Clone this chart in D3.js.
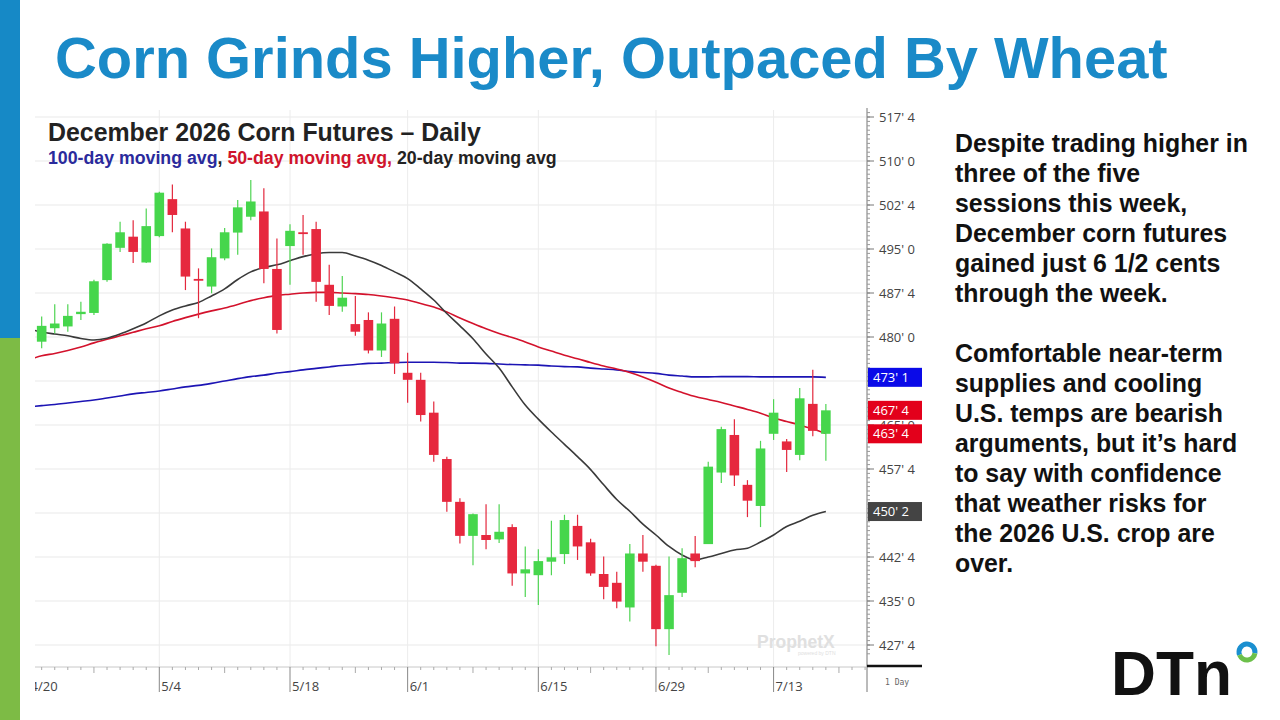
<!DOCTYPE html>
<html><head><meta charset="utf-8">
<script src="https://cdn.jsdelivr.net/npm/d3@7"></script>
<style>body{margin:0;background:#fff;overflow:hidden}svg{display:block}</style>
</head><body><svg id="c" width="1280" height="720"></svg>
<script>
// ---------- DATA ----------
const dates = ['4/20','4/21','4/22','4/23','4/24','4/27','4/28','4/29','4/30','5/1','5/4','5/5','5/6','5/7','5/8','5/11','5/12','5/13','5/14','5/15','5/18','5/19','5/20','5/21','5/22','5/26','5/27','5/28','5/29','6/1','6/2','6/3','6/4','6/5','6/8','6/9','6/10','6/11','6/12','6/15','6/16','6/17','6/18','6/22','6/23','6/24','6/25','6/26','6/29','6/30','7/1','7/2','7/6','7/7','7/8','7/9','7/10','7/13','7/14','7/15','7/16','7/17'];
const futureDates = ['7/20','7/21','7/22','7/23'];
const labelDates = ['4/20','5/4','5/18','6/1','6/15','6/29','7/13'];
const weekDates = ['4/27','5/11','5/26','6/8','6/22','7/6','7/20'];

const openP = [null,479.2,481.5,481.8,483.9,484.1,489.7,495.2,497.1,492.7,497.2,503.5,498.5,489.9,488.6,493.4,497.8,500.5,501.4,491.6,495.5,497.85,498.4,488.9,485.2,482.2,482.9,477.7,483.1,473.9,472.7,467.1,459.2,451.9,446.1,446.25,445.5,447.6,439.7,439.4,441.7,443.0,447.8,445.0,439.6,438.1,433.9,443.1,441.0,430.2,436.4,443.1,444.7,456.9,463.3,454.8,451.2,463.5,462.2,459.9,468.6,463.5];
const highP = [null,483.5,485.6,485.6,486.0,489.75,496.0,499.65,499.9,501.9,504.75,506.0,499.65,491.7,495.1,498.6,503.35,506.75,505.35,496.8,499.2,500.8,499.65,492.3,490.4,487.0,484.2,484.2,485.2,477.3,473.9,469.0,459.6,452.5,449.9,451.5,451.5,448.1,444.3,443.8,448.7,449.7,449.7,445.6,442.6,440.0,444.7,446.25,441.2,442.6,444.0,446.1,458.75,464.7,466.0,455.6,462.3,469.4,462.6,471.3,474.4,468.6];
const lowP = [null,478.1,480.6,480.9,482.9,483.75,489.4,494.5,492.6,492.6,497.0,497.85,488.0,483.2,487.45,493.1,494.0,499.9,489.15,480.6,488.9,494.0,486.0,483.75,484.3,480.2,477.2,476.6,473.7,468.8,465.6,458.75,450.2,444.8,441.1,443.8,444.9,437.6,435.7,434.3,439.4,441.3,442.0,439.3,435.3,433.75,431.5,440.0,427.3,425.8,435.7,440.75,444.7,455.1,454.6,449.3,447.6,462.45,457.0,459.0,463.1,458.9];
const closeP = [null,481.9,482.3,483.6,484.3,489.5,495.9,497.85,494.5,498.9,504.6,500.8,490.3,489.7,493.6,497.85,502.1,503.1,491.6,481.2,498.1,497.7,489.4,485.3,486.7,480.9,477.7,482.3,475.5,472.7,466.7,459.9,451.9,446.1,449.8,445.4,446.8,439.7,440.4,441.8,442.45,448.8,444.3,439.7,437.4,434.9,443.1,441.7,430.2,436.0,442.3,441.8,457.9,464.3,456.4,452.1,461.0,467.1,460.75,469.55,464.0,467.5];

const ma20 = [481.4,480.85,480.5,480.2,479.75,479.5,479.8,480.5,481.4,482.4,483.6,484.6,485.3,485.9,487.0,488.2,489.8,491.1,491.85,492.3,493.0,493.7,494.2,494.4,494.4,493.8,493.1,492.2,491.1,489.95,488.2,486.3,484.0,481.9,479.7,477.1,474.7,471.5,468.4,466.0,463.8,461.7,459.6,457.4,454.8,452.3,450.3,448.1,446.25,444.3,442.85,442.0,442.5,443.1,443.7,444.0,445.05,446.25,447.7,448.6,449.6,450.25];
const ma50 = [476.1,476.8,477.2,477.7,478.3,479.0,479.6,480.2,480.8,481.4,481.9,482.65,483.3,483.9,484.45,484.95,485.55,486.2,486.7,487.1,487.3,487.5,487.6,487.6,487.5,487.4,487.25,487.0,486.7,486.3,485.7,485.1,484.25,483.25,482.3,481.4,480.6,479.9,479.15,478.3,477.6,476.9,476.3,475.65,475.05,474.55,473.95,473.2,472.3,471.3,470.55,469.85,469.35,468.85,468.25,467.65,467.0,466.2,465.6,465.0,464.3,463.55];
const ma100 = [468.1,468.3,468.5,468.75,469.0,469.25,469.6,469.95,470.3,470.55,470.8,471.15,471.5,471.75,472.1,472.5,472.9,473.25,473.5,473.85,474.1,474.4,474.65,474.9,475.15,475.3,475.5,475.55,475.65,475.7,475.7,475.7,475.65,475.55,475.55,475.5,475.4,475.3,475.25,475.2,475.05,474.95,474.9,474.7,474.55,474.4,474.1,473.95,473.8,473.5,473.35,473.2,473.2,473.25,473.25,473.25,473.2,473.2,473.2,473.2,473.2,473.125];

const yTicks = [517.5,510,502.5,495,487.5,480,472.5,465,457.5,450,442.5,435,427.5];
const tagValues = [473.125, 467.5, 463.5, 450.25];
const tagColors = ['#0a0ae8','#e3001b','#e3001b','#444444'];

const titleText = 'Corn Grinds Higher, Outpaced By Wheat';
const chartTitle = 'December 2026 Corn Futures \u2013 Daily';
const para1 = ['Despite trading higher in','three of the five','sessions this week,','December corn futures','gained just 6 1/2 cents','through the week.'];
const para2 = ['Comfortable near-term','supplies and cooling','U.S. temps are bearish','arguments, but it\u2019s hard','to say with confidence','that weather risks for','the 2026 U.S. crop are','over.'];

// ---------- DRAW ----------
const svg = d3.select('#c');
const SANS = '"Liberation Sans", Arial, sans-serif';
const AX = '"Open Sans", "Noto Sans", sans-serif';
function fit(sel, target){ const w = sel.node().getComputedTextLength(); const fs = parseFloat(sel.attr('font-size')); sel.attr('font-size', fs*target/w); return sel; }

// left stripe
svg.append('rect').attr('x',0).attr('y',0).attr('width',20).attr('height',338).attr('fill','#1689c6');
svg.append('rect').attr('x',0).attr('y',338).attr('width',20).attr('height',382).attr('fill','#7dbb45');

// title
fit(svg.append('text').attr('x',55).attr('y',78).attr('font-family',SANS).attr('font-weight','bold')
  .attr('font-size',60).attr('fill','#1a8ac8').text(titleText), 1113);

const L = 35, R = 866, T = 108, B = 667;
const all = dates.concat(futureDates);
const x = d3.scalePoint().domain(all).range([28.6, 28.6 + 13.07*(all.length-1)]);
const y = d3.scaleLinear().domain([427.5, 517.5]).range([645, 117]);

svg.append('defs').append('clipPath').attr('id','pc').append('rect')
  .attr('x',L).attr('y',T).attr('width',R-L).attr('height',B-T+40);
const g = svg.append('g').attr('clip-path','url(#pc)');

// grid
g.selectAll('.hg').data(yTicks).enter().append('line')
  .attr('x1',L).attr('x2',R).attr('y1',d=>y(d)).attr('y2',d=>y(d)).attr('stroke','#e9e9e9').attr('stroke-width',1);
g.selectAll('.vg').data(labelDates).enter().append('line')
  .attr('x1',d=>x(d)).attr('x2',d=>x(d)).attr('y1',T+2).attr('y2',B).attr('stroke','#ececec').attr('stroke-width',1);

// chart header
svg.append('text').attr('x',48).attr('y',141).attr('font-family',SANS).attr('font-weight','bold')
  .attr('font-size',22).attr('fill','#222').text(chartTitle).call(s=>fit(s,433));
const sub = svg.append('text').attr('x',48).attr('y',164).attr('font-family',SANS).attr('font-weight','bold').attr('font-size',16);
sub.append('tspan').attr('fill','#2a2a9c').text('100-day moving avg');
sub.append('tspan').attr('fill','#222').text(', ');
sub.append('tspan').attr('fill','#d0142c').text('50-day moving avg,');
sub.append('tspan').attr('fill','#222').text(' 20-day moving avg');
fit(sub, 509);

// moving averages
const line = d3.line().x((d,i)=>x(dates[i])).y(d=>y(d)).curve(d3.curveMonotoneX);
g.append('path').datum(ma100).attr('d',line).attr('fill','none').attr('stroke','#1c14b4').attr('stroke-width',1.6);
g.append('path').datum(ma50).attr('d',line).attr('fill','none').attr('stroke','#d3122c').attr('stroke-width',1.6);
g.append('path').datum(ma20).attr('d',line).attr('fill','none').attr('stroke','#3a3a3a').attr('stroke-width',1.6);

// candles
const idx = d3.range(dates.length).filter(i=>openP[i]!=null);
const bw = 9.6;
const cg = g.selectAll('.cd').data(idx).enter().append('g');
cg.append('line').attr('x1',i=>x(dates[i])).attr('x2',i=>x(dates[i]))
  .attr('y1',i=>y(highP[i])).attr('y2',i=>y(lowP[i]))
  .attr('stroke',i=>closeP[i]>=openP[i]?'#4fd453':'#e3283d').attr('stroke-width',1.2);
cg.append('rect').attr('x',i=>x(dates[i])-bw/2).attr('width',bw)
  .attr('y',i=>y(Math.max(openP[i],closeP[i])))
  .attr('height',i=>Math.max(1.8, Math.abs(y(openP[i])-y(closeP[i]))))
  .attr('fill',i=>closeP[i]>=openP[i]?'#46d64c':'#e6283e');

// watermark
svg.append('text').attr('x',757).attr('y',648).attr('font-family',SANS).attr('font-weight','bold')
  .attr('font-size',17.5).attr('fill','#e0e0e0').text('ProphetX');
svg.append('text').attr('x',798).attr('y',655).attr('font-family',SANS)
  .attr('font-size',5).attr('fill','#e0e0e0').text('powered by DTN');

// x axis
svg.append('line').attr('x1',L).attr('x2',R).attr('y1',B).attr('y2',B).attr('stroke','#c8c8c8');
const xt = svg.append('g').attr('clip-path','url(#pc)');
xt.selectAll('.mt').data(all).enter().append('line')
  .attr('x1',d=>x(d)).attr('x2',d=>x(d)).attr('y1',B)
  .attr('y2',d=>labelDates.includes(d)?692:(weekDates.includes(d)?673:670))
  .attr('stroke',d=>labelDates.includes(d)?'#888':'#aaa').attr('stroke-width',1);
xt.selectAll('.xl').data(labelDates).enter().append('text')
  .attr('x',d=>x(d)+2).attr('y',691).attr('font-family',AX).attr('font-size',13).attr('fill','#444').text(d=>d);

// right axis
svg.append('line').attr('x1',867).attr('x2',867).attr('y1',108).attr('y2',692).attr('stroke','#777');
const minor = [];
for(let v=427.5; v<=518.5; v+=0.75) minor.push(v);
minor.push(426.75); minor.push(426);
svg.selectAll('.ymt').data(minor).enter().append('line')
  .attr('x1',867).attr('x2',870).attr('y1',d=>y(d)).attr('y2',d=>y(d)).attr('stroke','#999');
svg.selectAll('.yt').data(yTicks).enter().append('line')
  .attr('x1',867).attr('x2',874).attr('y1',d=>y(d)).attr('y2',d=>y(d)).attr('stroke','#777');
const fmt = v => Math.floor(v) + "' " + Math.round((v-Math.floor(v))*8);
// tick labels fully covered by a price tag are not drawn (hidden in the reference)
const visibleTicks = yTicks.filter(t => !tagValues.some(v => Math.abs(y(v)-y(t)) < 6));
svg.selectAll('.yl').data(visibleTicks).enter().append('text')
  .attr('x',879).attr('y',d=>y(d)+4.5).attr('font-family',AX).attr('font-size',13).attr('fill','#444').text(fmt);
// price tags
const tg = svg.selectAll('.tag').data(tagValues).enter().append('g');
tg.append('rect').attr('x',868).attr('y',d=>y(d)-9.5).attr('width',54).attr('height',19).attr('fill',(d,i)=>tagColors[i]);
tg.append('text').attr('x',873).attr('y',d=>y(d)+4.5).attr('font-family',AX).attr('font-size',13).attr('fill','#fff').text(fmt);
// bottom right
svg.append('line').attr('x1',867).attr('x2',922).attr('y1',666).attr('y2',666).attr('stroke','#111').attr('stroke-width',2.5);
svg.append('text').attr('x',885).attr('y',685).attr('font-family','"DejaVu Sans Mono", monospace').attr('font-size',8).attr('fill','#666').text('1 Day');

// right paragraph
const p1 = svg.append('g');
const first = p1.append('text').attr('x',955).attr('y',152).attr('font-family',SANS).attr('font-weight','bold')
  .attr('font-size',21).attr('fill','#111').text(para1[0]);
fit(first, 293);
const pfs = first.attr('font-size');
para1.slice(1).forEach((t,i)=>p1.append('text').attr('x',955).attr('y',152+30*(i+1)).attr('font-family',SANS)
  .attr('font-weight','bold').attr('font-size',pfs).attr('fill','#111').text(t));
para2.forEach((t,i)=>p1.append('text').attr('x',955).attr('y',362+30*i).attr('font-family',SANS)
  .attr('font-weight','bold').attr('font-size',pfs).attr('fill','#111').text(t));

// DTN logo
fit(svg.append('text').attr('x',1111).attr('y',695).attr('font-family',SANS).attr('font-weight','bold')
  .attr('font-size',56).attr('fill','#111').text('DTn'), 121);
const arc = d3.arc().innerRadius(5.5).outerRadius(10.5);
const lg = svg.append('g').attr('transform','translate(1247,652)');
lg.append('path').attr('d',arc({startAngle:-Math.PI*0.62, endAngle:Math.PI*0.55})).attr('fill','#1a8fd0');
lg.append('path').attr('d',arc({startAngle:Math.PI*0.55, endAngle:Math.PI*1.38})).attr('fill','#6cc04a');
</script></body></html>
